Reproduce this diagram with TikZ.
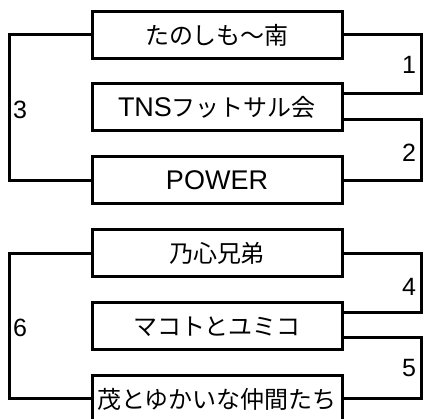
\documentclass[tikz,border=0pt]{standalone}
\usepackage{fontspec}
\setmainfont{Noto Sans CJK JP}
\newfontfamily\latfont{Liberation Sans}
\newcommand{\lat}[1]{{\latfont\fontsize{27}{27}\selectfont #1}}
\begin{document}
\begin{tikzpicture}[x=1pt,y=-1pt,
  team/.style={draw,line width=3pt,minimum width=250pt,minimum height=47pt,inner sep=0pt,font=\fontsize{24}{24}\selectfont},
  link/.style={line width=3pt,line join=miter},
  num/.style={font=\latfont\fontsize{25}{25}\selectfont,inner sep=0pt}]
\useasboundingbox (0,0) rectangle (424,419);
\node[team] (b1) at (217,35) {たのしも〜南};
\node[team] (b2) at (217,107.5) {\lat{TNS}フットサル会};
\node[team] (b3) at (217,180.5) {\lat{POWER}};
\node[team] (b4) at (217,253.5) {乃心兄弟};
\node[team] (b5) at (217,326.5) {マコトとユミコ};
\node[team] (b6) at (217,399) {茂とゆかいな仲間たち};
\coordinate (L1) at (9,100);
\coordinate (L2) at (9,320);
\coordinate (R1) at (421,60);
\coordinate (R2) at (421,150);
\coordinate (R4) at (421,280);
\coordinate (R5) at (421,370);
\coordinate (m1) at (342,94);
\coordinate (m2) at (342,120);
\coordinate (m4) at (342,313);
\coordinate (m5) at (342,338);
\draw[link] (b1.west) -| (L1) |- (b3.west);
\draw[link] (b4.west) -| (L2) |- (b6.west);
\draw[link] (b1.east) -| (R1) |- (m1);
\draw[link] (m2) -| (R2) |- (b3.east);
\draw[link] (b4.east) -| (R4) |- (m4);
\draw[link] (m5) -| (R5) |- (b6.east);
\node[num] (n1) at (409,65) {1};
\node[num] (n2) at (409,152.5) {2};
\node[num] (n3) at (20,110) {3};
\node[num] (n4) at (409,287) {4};
\node[num] (n5) at (409,368) {5};
\node[num] (n6) at (20,328) {6};
\end{tikzpicture}
\end{document}
